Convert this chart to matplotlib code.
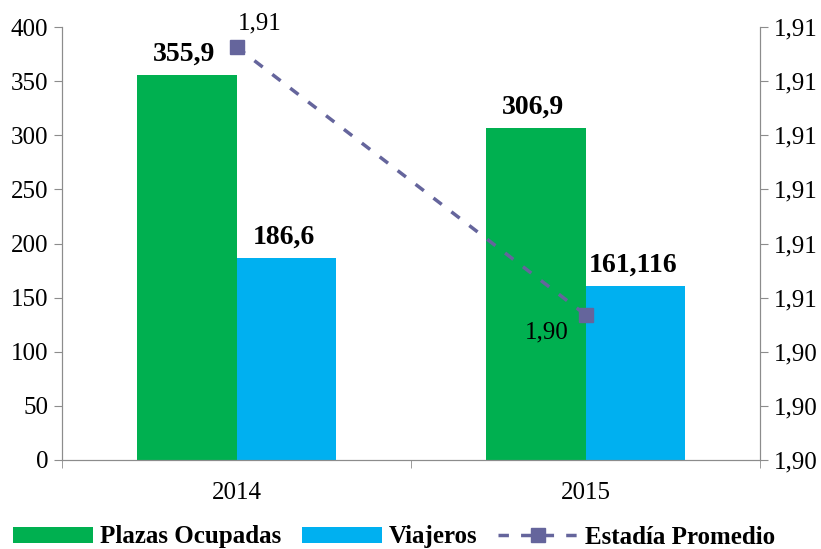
import numpy as np
import matplotlib
matplotlib.use('Agg')
import matplotlib.pyplot as plt
from matplotlib.ticker import FuncFormatter

# --- data ---
years = ['2014', '2015']
plazas = [355.9, 306.9]
viajeros = [186.6, 161.116]
estadia = [1.914, 1.9046]
plazas_lbl = ['355,9', '306,9']
viajeros_lbl = ['186,6', '161,116']

GREEN = '#00B050'
BLUE = '#00B0F0'
LINE = '#65659C'
SPINE = '#8C8C8C'


def comma(v):
    return f'{v:.2f}'.replace('.', ',')


plt.rcParams['font.family'] = ['Liberation Serif', 'DejaVu Serif']

fig = plt.figure(figsize=(8.21, 5.49), dpi=100)
ax = fig.add_axes([62 / 821, 1 - 460 / 549, (760 - 62) / 821, (460 - 27) / 549])
ax2 = ax.twinx()

x = np.arange(len(years))
w = 0.2865
b1 = ax.bar(x - w / 2, plazas, w, color=GREEN, label='Plazas Ocupadas', zorder=2)
b2 = ax.bar(x + w / 2, viajeros, w, color=BLUE, label='Viajeros', zorder=2)

# bold value labels above bars
for rects, lbls in ((b1, plazas_lbl), (b2, viajeros_lbl)):
    for r, t in zip(rects, lbls):
        ax.annotate(t, (r.get_x() + r.get_width() / 2, r.get_height()),
                    xytext=(-2, 10), textcoords='offset points',
                    ha='center', va='baseline', fontsize=20, fontweight='bold')

ax.set_xlim(-0.5, 1.5)
ax.set_ylim(0, 400)
ax.set_yticks(np.arange(0, 401, 50))
ax.set_xticks(x)
ax.set_xticklabels(years)
ax.set_xticks([-0.5, 0.5, 1.5], minor=True)
ax.tick_params(axis='x', which='major', length=0, labelsize=18, pad=16)
ax.tick_params(axis='x', which='minor', length=6, color=SPINE)
ax.tick_params(axis='y', length=6, color=SPINE, labelsize=18, pad=4)

# secondary axis: average stay
ln, = ax2.plot(x, estadia, color=LINE, lw=2.5, dashes=(3, 3.5), marker='s',
               markersize=10, label='Estadía Promedio', zorder=3)
ax2.set_ylim(1.8995, 1.8995 + 8 * 0.0019)
ax2.set_yticks([1.8995 + i * 0.0019 for i in range(9)])
ax2.yaxis.set_major_formatter(FuncFormatter(lambda v, p: comma(v)))
ax2.tick_params(axis='y', length=6, color=SPINE, labelsize=18, pad=4)

ax2.annotate(comma(estadia[0]), (x[0], estadia[0]),
             xytext=(1, 9), textcoords='offset points', ha='left', va='bottom',
             fontsize=18)
ax2.annotate(comma(estadia[1]), (x[1], estadia[1]),
             xytext=(-12, -5), textcoords='offset points', ha='right', va='top',
             fontsize=18)

for a in (ax, ax2):
    a.spines['top'].set_visible(False)
    for s in ('left', 'right', 'bottom'):
        a.spines[s].set_color(SPINE)

fig.legend([b1, b2, ln], ['Plazas Ocupadas', 'Viajeros', 'Estadía Promedio'],
           loc='center', bbox_to_anchor=(0.48, 1 - 537 / 549), ncol=3, frameon=False,
           prop={'weight': 'bold', 'size': 18}, handlelength=3.2, handleheight=0.6,
           columnspacing=0.8, handletextpad=0.3)

fig.savefig('out.png', dpi=100)
